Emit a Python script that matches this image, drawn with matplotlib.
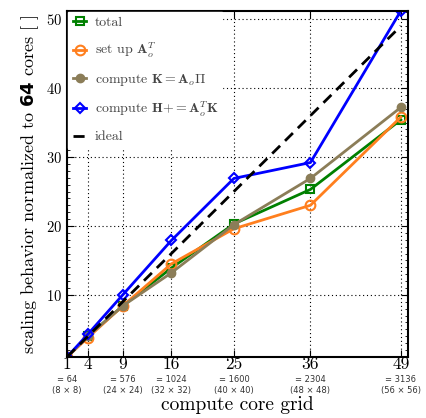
import matplotlib
matplotlib.use("Agg")
import matplotlib.pyplot as plt
import matplotlib.transforms as mtransforms
from matplotlib.ticker import AutoMinorLocator

plt.rcParams["font.family"] = "serif"
plt.rcParams["font.serif"] = ["cmr10", "DejaVu Serif"]
plt.rcParams["mathtext.fontset"] = "custom"
plt.rcParams["mathtext.rm"] = "cmr10"
plt.rcParams["mathtext.it"] = "cmmi10"
plt.rcParams["mathtext.bf"] = "cmb10"
plt.rcParams["mathtext.sf"] = "DejaVu Sans:bold"
plt.rcParams["mathtext.fallback"] = "cm"
plt.rcParams["axes.formatter.use_mathtext"] = True

# core grid (multiples of the 8x8 base grid)
grid = [1, 4, 9, 16, 25, 36, 49]
cores = ["= 64", "", "= 576", "= 1024", "= 1600", "= 2304", "= 3136"]
layout = ["(8 × 8)", "", "(24 × 24)", "(32 × 32)", "(40 × 40)", "(48 × 48)", "(56 × 56)"]

total = [1, 4.0, 8.4, 13.9, 20.3, 25.3, 35.4]
setup = [1, 3.8, 8.4, 14.5, 19.6, 23.0, 35.8]
compute_k = [1, 4.0, 8.4, 13.2, 20.2, 26.9, 37.2]
compute_h = [1, 4.3, 10.0, 17.9, 26.9, 29.2, 51.2]
ideal = grid

fig = plt.figure(figsize=(4.27, 4.18), dpi=100)
ax = fig.add_axes([0.157, 0.146, 0.798, 0.828])

ax.plot(grid, total, color="green", lw=2, marker="s", ms=6, mfc="none", mew=1.5,
        label="total")
ax.plot(grid, setup, color="#ff7f1e", lw=2, marker="o", ms=7, mfc="none", mew=1.5,
        label=r"set up $\mathbf{A}_o^T$")
ax.plot(grid, compute_k, color="#8b7d58", lw=2, marker="o", ms=6,
        label=r"compute $\mathbf{K} = \mathbf{A}_o\mathbf{\Pi}$")
ax.plot(grid, compute_h, color="blue", lw=2, marker="D", ms=5, mfc="none", mew=1.5,
        label=r"compute $\mathbf{H}{+} = \mathbf{A}_o^T\mathbf{K}$")
ax.plot(grid, ideal, color="black", lw=2, ls=(0, (4, 2.5)), label="ideal")

ax.set_xlim(1, 50)
ax.set_ylim(1, 51.2)
ax.set_xticks(grid)
ax.set_xticklabels([str(g) for g in grid], fontsize=12.5)
ax.set_yticks([10, 20, 30, 40, 50])
ax.tick_params(axis="y", labelsize=10.5)
ax.yaxis.set_minor_locator(AutoMinorLocator(10))
ax.tick_params(which="both", direction="in", top=True, right=True)
ax.tick_params(which="major", length=5)
ax.tick_params(which="minor", length=2.5)
ax.tick_params(axis="x", pad=0)
ax.grid(True, color="black", ls=(0, (1, 2.5)), lw=0.8)
for s in ax.spines.values():
    s.set_linewidth(1.5)

trans = mtransforms.blended_transform_factory(ax.transData, ax.transAxes)
for g, c, l in zip(grid, cores, layout):
    if c:
        ax.text(g, -0.064, c, transform=trans, ha="center", va="center",
                fontsize=6, family="DejaVu Sans", color="#333333")
        ax.text(g, -0.097, l, transform=trans, ha="center", va="center",
                fontsize=6, family="DejaVu Sans", color="#333333")

ax.set_xlabel("compute core grid", fontsize=14, labelpad=17)
ax.set_ylabel(r"scaling behavior normalized to $\mathsf{64}$ cores [ ]", fontsize=13,
              labelpad=4)

leg = ax.legend(loc="upper left", fontsize=10, handlelength=1.0, handletextpad=0.6,
                labelspacing=0.85, borderaxespad=0.1, frameon=True, fancybox=False,
                edgecolor="white", framealpha=1.0, borderpad=0.3)
for t in leg.get_texts():
    t.set_color("#444444")

fig.savefig("out.png", dpi=100)
